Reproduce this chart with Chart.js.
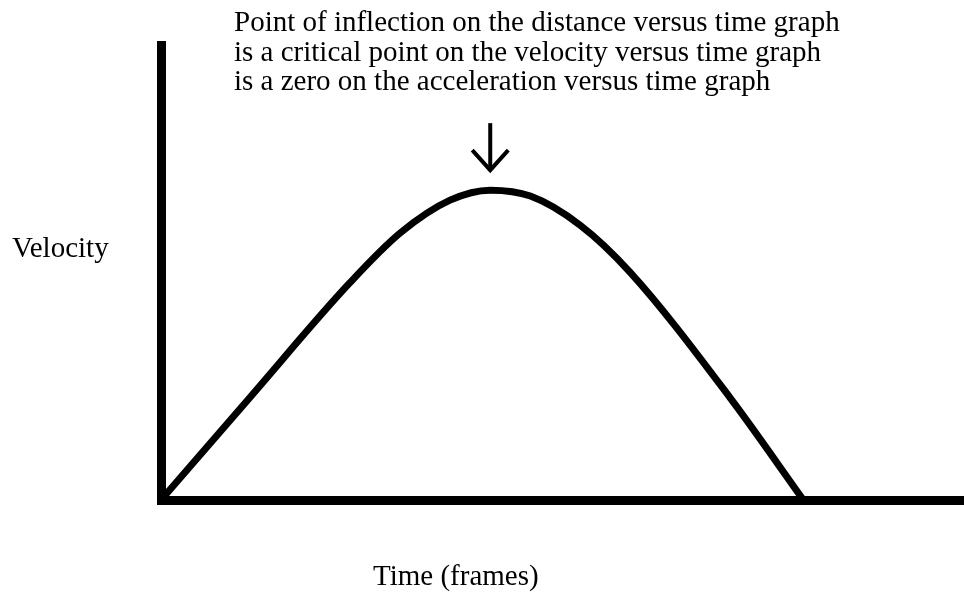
<!DOCTYPE html>
<html>
<head>
<meta charset="utf-8">
<script src="https://cdn.jsdelivr.net/npm/chart.js@4"></script>
<style>
  html, body { margin: 0; padding: 0; background: #fff; }
  canvas { display: block; }
</style>
</head>
<body>
<canvas id="chart" width="964" height="596"></canvas>
<script>
// time in frames, velocity in arbitrary units
const frames = [0, 11.1, 23.5, 29.8, 36.0, 41.0, 46.0, 52.2, 58.4, 70.9, 80.0];
const velocity = [0, 2.26, 4.77, 5.87, 6.59, 6.81, 6.68, 6.04, 5.01, 2.24, 0];

const noteLines = [
  "Point of inflection on the distance versus time graph",
  "is a critical point on the velocity versus time graph",
  "is a zero on the acceleration versus time graph",
];
const yLabel = "Velocity";
const xLabel = "Time (frames)";

const peakIndex = velocity.indexOf(Math.max(...velocity));
const FONT = '29px "Liberation Serif", "Times New Roman", serif';

const labelsPlugin = {
  id: "labels",
  afterDraw(chart) {
    const ctx = chart.ctx;
    const { x, y } = chart.scales;
    ctx.save();
    ctx.fillStyle = "#000";
    ctx.font = FONT;
    ctx.textAlign = "left";
    ctx.textBaseline = "alphabetic";
    noteLines.forEach((line, i) => {
      ctx.fillText(line, 234, 31 + i * 29.5);
    });
    ctx.fillText(yLabel, 12, 257);
    ctx.fillText(xLabel, 373, 585);

    // arrow pointing down at the peak
    const px = x.getPixelForValue(frames[peakIndex]);
    const tip = y.getPixelForValue(velocity[peakIndex]) - 20;
    ctx.strokeStyle = "#000";
    ctx.lineWidth = 4;
    ctx.lineCap = "butt";
    ctx.beginPath();
    ctx.moveTo(px, tip - 47);
    ctx.lineTo(px, tip);
    ctx.stroke();
    ctx.beginPath();
    ctx.moveTo(px - 18, tip - 20);
    ctx.lineTo(px, tip);
    ctx.lineTo(px + 18, tip - 20);
    ctx.stroke();
    ctx.restore();
  },
};

new Chart(document.getElementById("chart"), {
  type: "line",
  data: {
    datasets: [
      {
        data: frames.map((f, i) => ({ x: f, y: velocity[i] })),
        borderColor: "#000",
        borderWidth: 7,
        pointRadius: 0,
        cubicInterpolationMode: "monotone",
        fill: false,
      },
    ],
  },
  options: {
    responsive: false,
    animation: false,
    layout: { padding: { left: 161, top: 45, right: 0, bottom: 96 } },
    plugins: {
      legend: { display: false },
      tooltip: { enabled: false },
      title: { display: false },
    },
    scales: {
      x: {
        type: "linear",
        min: 0,
        max: 100,
        ticks: { display: false },
        grid: { display: false, drawTicks: false },
        border: { display: true, color: "#000", width: 9 },
      },
      y: {
        min: 0,
        max: 10,
        ticks: { display: false },
        grid: { display: false, drawTicks: false },
        border: { display: true, color: "#000", width: 9 },
      },
    },
  },
  plugins: [labelsPlugin],
});
</script>
</body>
</html>
